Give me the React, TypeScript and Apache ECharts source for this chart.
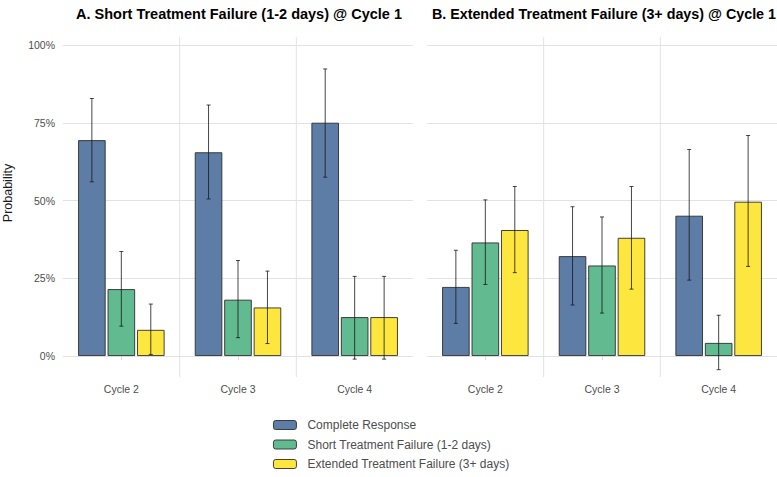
import React, { useEffect, useRef } from "react";
import * as echarts from "echarts";

const categories = ["Cycle 2", "Cycle 3", "Cycle 4"];
const seriesNames = [
  "Complete Response",
  "Short Treatment Failure (1-2 days)",
  "Extended Treatment Failure (3+ days)",
];
const panelTitles = [
  "A. Short Treatment Failure (1-2 days) @ Cycle 1",
  "B. Extended Treatment Failure (3+ days) @ Cycle 1",
];

// Panel A
const completeA = [0.694, 0.655, 0.75];
const completeALow = [0.56, 0.505, 0.575];
const completeAHigh = [0.828, 0.807, 0.923];
const shortA = [0.215, 0.181, 0.125];
const shortALow = [0.096, 0.059, -0.01];
const shortAHigh = [0.336, 0.307, 0.256];
const extA = [0.084, 0.156, 0.125];
const extALow = [0.005, 0.04, -0.01];
const extAHigh = [0.167, 0.273, 0.256];

// Panel B
const completeB = [0.222, 0.321, 0.451];
const completeBLow = [0.105, 0.164, 0.244];
const completeBHigh = [0.34, 0.48, 0.664];
const shortB = [0.365, 0.291, 0.042];
const shortBLow = [0.23, 0.138, -0.044];
const shortBHigh = [0.502, 0.447, 0.131];
const extB = [0.405, 0.38, 0.496];
const extBLow = [0.268, 0.215, 0.288];
const extBHigh = [0.545, 0.545, 0.709];

const colors = ["#5D7CA6", "#61BA90", "#FDE73E"];
const FONT = "Liberation Sans, Arial, Helvetica, sans-serif";
const BAR_FRAC = 0.236;
const GAP_FRAC = 0.07;

const panels = [
  {
    values: [completeA, shortA, extA],
    lows: [completeALow, shortALow, extALow],
    highs: [completeAHigh, shortAHigh, extAHigh],
  },
  {
    values: [completeB, shortB, extB],
    lows: [completeBLow, shortBLow, extBLow],
    highs: [completeBHigh, shortBHigh, extBHigh],
  },
];

export default function App() {
  const ref = useRef<HTMLDivElement>(null);
  useEffect(() => {
    if (!ref.current) return;
    const chart = echarts.init(ref.current, null, { renderer: "svg" });

    const grids = [
      { left: 63, top: 45, width: 350, height: 311 },
      { left: 427, top: 45, width: 350, height: 311 },
    ];

    const xAxes = grids.map((_, i) => ({
      type: "category",
      gridIndex: i,
      data: categories,
      offset: 22,
      axisLine: { show: false },
      axisTick: { show: true, alignWithLabel: true, length: 4, lineStyle: { color: "#d9d9d9" } },
      axisLabel: { color: "#4d4d4d", fontSize: 10.5, fontFamily: FONT, margin: 5 },
      splitLine: { show: false },
    }));

    const yAxes = grids.map((_, i) => ({
      type: "value",
      gridIndex: i,
      min: 0,
      max: 1,
      interval: 0.25,
      axisLine: { show: false },
      axisTick: { show: false },
      axisLabel: {
        show: i === 0,
        color: "#4d4d4d",
        fontSize: 10.5,
        fontFamily: FONT,
        margin: 8,
        formatter: (v: number) => Math.round(v * 100) + "%",
      },
      splitLine: { show: true, lineStyle: { color: "#e2e2e2", width: 1 } },
    }));

    const series: any[] = [];
    panels.forEach((p, pi) => {
      // separators between categories
      series.push({
        type: "custom",
        xAxisIndex: pi,
        yAxisIndex: pi,
        silent: true,
        clip: false,
        z: 1,
        data: [[1], [2]],
        renderItem: (params: any, api: any) => {
          const cs = params.coordSys;
          const band = api.size([1, 0])[0];
          const x = api.coord([api.value(0), 0])[0] - band / 2;
          return {
            type: "line",
            shape: { x1: x, y1: cs.y - 8, x2: x, y2: cs.y + cs.height + 21 },
            style: { stroke: "#e2e2e2", lineWidth: 1 },
          };
        },
      });
      p.values.forEach((vals, si) => {
        series.push({
          type: "bar",
          name: seriesNames[si],
          xAxisIndex: pi,
          yAxisIndex: pi,
          data: vals,
          barWidth: BAR_FRAC * 100 + "%",
          barGap: GAP_FRAC * 100 + "%",
          itemStyle: { color: colors[si], borderColor: "#2e2e2e", borderWidth: 0.9 },
          z: 2,
        });
      });
      const errData: number[][] = [];
      categories.forEach((_, ci) => {
        p.values.forEach((__, si) => {
          errData.push([ci, si, p.lows[si][ci], p.highs[si][ci]]);
        });
      });
      series.push({
        type: "custom",
        xAxisIndex: pi,
        yAxisIndex: pi,
        silent: true,
        clip: false,
        z: 5,
        data: errData,
        encode: { x: 0, y: [2, 3] },
        renderItem: (params: any, api: any) => {
          const band = api.size([1, 0])[0];
          const w = band * BAR_FRAC;
          const step = w * (1 + GAP_FRAC);
          const ci = api.value(0);
          const si = api.value(1);
          const cx = api.coord([ci, 0])[0] + (si - 1) * step;
          const yl = api.coord([ci, api.value(2)])[1];
          const yh = api.coord([ci, api.value(3)])[1];
          const cap = 2;
          const st = { stroke: "rgba(25,25,25,0.8)", lineWidth: 1 };
          return {
            type: "group",
            children: [
              { type: "line", shape: { x1: cx, y1: yh, x2: cx, y2: yl }, style: st },
              { type: "line", shape: { x1: cx - cap, y1: yh, x2: cx + cap, y2: yh }, style: st },
              { type: "line", shape: { x1: cx - cap, y1: yl, x2: cx + cap, y2: yl }, style: st },
            ],
          };
        },
      });
    });

    const option: any = {
      animation: false,
      backgroundColor: "#ffffff",
      grid: grids,
      xAxis: xAxes,
      yAxis: yAxes,
      legend: {
        data: seriesNames,
        orient: "vertical",
        left: 273,
        top: 419,
        padding: 0,
        itemWidth: 23,
        itemHeight: 9,
        itemGap: 7.5,
        itemStyle: { borderColor: "#2e2e2e", borderWidth: 0.9 },
        textStyle: { color: "#4d4d4d", fontSize: 12, fontFamily: FONT, padding: [0, 0, 0, 6] },
        selectedMode: false,
      },
      graphic: [
        {
          type: "text",
          x: 239,
          y: 14,
          style: {
            text: panelTitles[0],
            align: "center",
            verticalAlign: "middle",
            fill: "#000",
            font: "bold 14.5px " + FONT,
          },
        },
        {
          type: "text",
          x: 776,
          y: 14,
          style: {
            text: panelTitles[1],
            align: "right",
            verticalAlign: "middle",
            fill: "#000",
            font: "bold 14.3px " + FONT,
          },
        },
        {
          type: "text",
          x: 8,
          y: 193,
          rotation: Math.PI / 2,
          style: {
            text: "Probability",
            align: "center",
            verticalAlign: "middle",
            fill: "#1a1a1a",
            font: "12.5px " + FONT,
          },
        },
      ],
      series,
    };
    chart.setOption(option);
    return () => chart.dispose();
  }, []);

  return (
    <div
      ref={ref}
      style={{ position: "fixed", left: 0, top: 0, width: 777, height: 477, overflow: "visible" }}
    />
  );
}
